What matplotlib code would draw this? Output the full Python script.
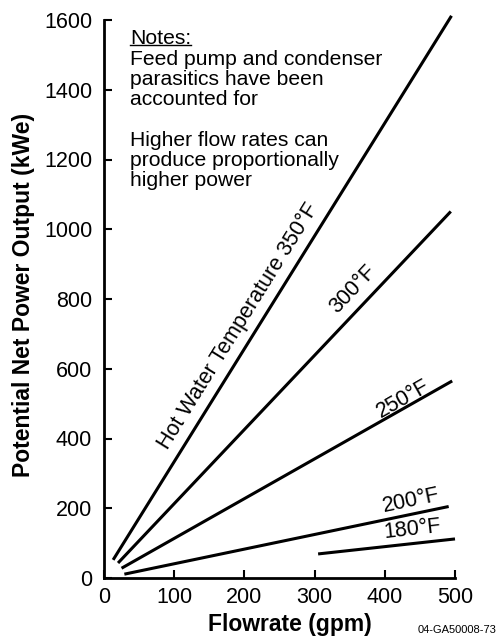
import matplotlib
matplotlib.use("Agg")
import matplotlib.pyplot as plt
from matplotlib.lines import Line2D

plt.rcParams['font.family'] = ['Liberation Sans', 'DejaVu Sans']

# Data (flowrate gpm -> net power kWe), straight lines
flow_350 = [13, 495]
power_350 = [52, 1612]
flow_300 = [20, 494]
power_300 = [43, 1051]
flow_250 = [25, 496]
power_250 = [28, 565]
flow_200 = [29, 491]
power_200 = [11, 205]
flow_180 = [305, 500]
power_180 = [69, 112]

xticks = [0, 100, 200, 300, 400, 500]
yticks = [0, 200, 400, 600, 800, 1000, 1200, 1400, 1600]

W, H = 499, 637
fig = plt.figure(figsize=(W/100, H/100), dpi=100)
ax = fig.add_axes([104/W, 1-578/H, (455-104)/W, (578-20)/H])

lw = 2.2
for xs, ys in [(flow_350, power_350), (flow_300, power_300), (flow_250, power_250),
               (flow_200, power_200), (flow_180, power_180)]:
    ax.plot(xs, ys, color='black', lw=lw, solid_capstyle='butt', clip_on=False)

ax.set_xlim(0, 500)
ax.set_ylim(0, 1600)
ax.set_xticks(xticks)
ax.set_yticks(yticks)
ax.tick_params(direction='in', length=6, width=1.5, labelsize=15.5, colors='black')
ax.tick_params(axis='y', pad=8.5)
ax.tick_params(axis='x', pad=6.5)
for s in ['top', 'right']:
    ax.spines[s].set_visible(False)
for s in ['left', 'bottom']:
    ax.spines[s].set_linewidth(2)

fig.text(290/W, 1-624/H, 'Flowrate (gpm)', fontsize=16.5, fontweight='bold', ha='center', va='center')
fig.text(24/W, 1-295/H, 'Potential Net Power Output (kWe)', fontsize=16.5, fontweight='bold',
         ha='center', va='center', rotation=90)

fs = 15.5
ax.text(192, 722, 'Hot Water Temperature 350°F', rotation=58.1, fontsize=fs,
        ha='center', va='center', rotation_mode='anchor')
ax.text(355, 828, '300°F', rotation=46.6, fontsize=fs, ha='center', va='center', rotation_mode='anchor')
ax.text(426, 513, '250°F', rotation=29.6, fontsize=fs, ha='center', va='center', rotation_mode='anchor')
ax.text(438, 221, '200°F', rotation=11.8, fontsize=fs, ha='center', va='center', rotation_mode='anchor')
ax.text(439, 140, '180°F', rotation=6.3, fontsize=fs, ha='center', va='center', rotation_mode='anchor')

nfs = 15.2
notes = fig.text(130/W, 1-29/H, 'Notes:', fontsize=nfs, va='top', ha='left')
fig.text(130/W, 1-50/H, 'Feed pump and condenser\nparasitics have been\naccounted for\n\nHigher flow rates can\nproduce proportionally\nhigher power',
         fontsize=nfs, va='top', ha='left', linespacing=1.08)

fig.text(418/W, 1-630/H, '04-GA50008-73', fontsize=8, ha='left', va='center')

fig.canvas.draw()
bb = notes.get_window_extent(fig.canvas.get_renderer())
fig.add_artist(Line2D([bb.x0/W, bb.x1/W], [(bb.y0+3)/H, (bb.y0+3)/H], color='black', lw=1.0))

fig.savefig('out.png', dpi=100)
